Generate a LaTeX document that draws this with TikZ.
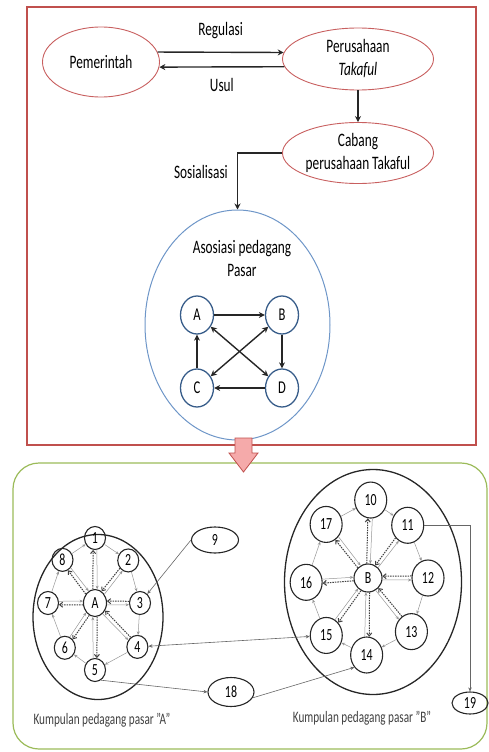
\documentclass[tikz,border=0pt]{standalone}
\usepackage{fontspec}
\setmainfont[FakeStretch=0.7]{Carlito}
\usetikzlibrary{positioning,arrows.meta,shapes.geometric}
\definecolor{framered}{RGB}{192,80,77}
\definecolor{ovalred}{RGB}{200,95,95}
\definecolor{asoblue}{RGB}{110,150,200}
\definecolor{nodeblue}{RGB}{56,93,138}
\definecolor{boxgreen}{RGB}{155,187,89}
\definecolor{arrowpink}{RGB}{245,170,170}
\definecolor{spokegray}{RGB}{150,150,150}
\tikzset{
	oval/.style={ellipse,draw=ovalred,line width=0.9pt,inner sep=0pt,align=center},
	blob/.style={ellipse,draw=nodeblue,line width=1.3pt,minimum width=33pt,minimum height=38pt,inner sep=0pt,font=\fontsize{18}{20}\selectfont},
	flow/.style={draw=black!85,line width=1.4pt,->},
	twoway/.style={draw=black!85,line width=1.4pt,<->},
	member/.style={ellipse,draw=black!85,line width=1.1pt,inner sep=0pt,font=\fontsize{17}{19}\selectfont},
	ring/.style={draw=spokegray,line width=0.5pt,-{Stealth[length=3.5pt,width=3pt]}},
	dotspoke/.style={draw=black!75,line width=1pt,dash pattern=on 1.5pt off 1pt,-{Straight Barb[length=3pt,width=5pt]}},
	link/.style={draw=black!60,line width=0.6pt,-{Stealth[length=4pt,width=3.5pt]}},
	linkboth/.style={draw=black!60,line width=0.6pt,{Stealth[length=4pt,width=3.5pt]}-{Stealth[length=4pt,width=3.5pt]}},
	tag/.style={inner sep=1pt,align=center},
}

\begin{document}
\begin{tikzpicture}[x=1pt,y=-1pt,font=\fontsize{19}{23}\selectfont,>={Stealth[length=6pt,width=6pt]}]
	\useasboundingbox (0,0) rectangle (488,752);
	\draw[framered,line width=1.2pt] (27,7) rectangle (476,445);
	\node[oval,minimum width=117pt,minimum height=70pt] (pem) at (101,62) {Pemerintah};
	\node[oval,minimum width=151pt,minimum height=62pt] (per) at (358,59) {Perusahaan\\\textit{Takaful}};
	\node[oval,minimum width=151pt,minimum height=61pt,on grid,below=94pt of per] (cab) {Cabang\\perusahaan Takaful};
	\node[ellipse,draw=asoblue,line width=1pt,minimum width=185pt,minimum height=230pt] (aso) at (237.5,325) {};
	\node[tag] (asolbl) at (242,258) {Asosiasi pedagang\\Pasar};
	\draw[flow] (pem.10) -- (per.175) node[tag,midway,above=12pt] (reg) {Regulasi};
	\draw[flow] (per.186) -- (pem.355) node[tag,midway,below=10pt] (usul) {Usul};
	\draw[flow] (per) -- (cab);
	\draw[flow] (cab.west) -| (aso.north) node[tag,pos=0.67,left=8pt] (sos) {Sosialisasi};

	\node[blob] (na) at (197,315) {A};
	\node[blob,on grid,right=85pt of na] (nb) {B};
	\node[blob,on grid,below=73pt of na] (nc) {C};
	\node[blob,on grid,below=73pt of nb] (nd) {D};
	\draw[flow] (na) -- (nb);
	\draw[flow] (nb) -- (nd);
	\draw[flow] (nd) -- (nc);
	\draw[flow] (nc) -- (na);
	\draw[twoway] (na) -- (nd);
	\draw[twoway] (nb) -- (nc);

	\draw[boxgreen,line width=1.2pt,rounded corners=26pt] (13,463) rectangle (487,749);
	\draw[framered,fill=arrowpink,line width=0.8pt] (235,438) -- (252,438) -- (252,453) -- (258,453) -- (243.5,472) -- (229,453) -- (235,453) -- cycle;

	\node[ellipse,draw=black!85,line width=1.3pt,minimum width=130pt,minimum height=165pt] (grpa) at (98,617) {};
	\node[member,minimum width=23pt,minimum height=27pt] (ha) at (95,603) {A};
	\foreach \n/\ang/\r in {1/90/65,2/52/54,3/0/45,4/-46/61,5/-90/67,6/-124/54,7/180/47,8/127/54}
		\node[member,minimum width=21pt,minimum height=23pt] (a\n) at ([shift={(\ang:\r pt)}]ha) {\n};
	\foreach \i/\j in {1/2,2/3,3/4,4/5,5/6,6/7,7/8,8/1}
		\draw[ring] (a\i) -- (a\j);
	\foreach [evaluate=\ang as \p using int(\ang+9),evaluate=\ang as \q using int(\ang+171),evaluate=\ang as \s using int(\ang-9),evaluate=\ang as \t using int(\ang+189)] \n/\ang in {1/90,5/-90,6/-124,7/180,8/127} {
		\draw[dotspoke] (ha.\p) -- (a\n.\q);
		\draw[ring] (a\n.\t) -- (ha.\s);
	}
	\foreach [evaluate=\ang as \p using int(\ang+9),evaluate=\ang as \q using int(\ang+171),evaluate=\ang as \s using int(\ang-9),evaluate=\ang as \t using int(\ang+189)] \n/\ang in {2/52,3/0,4/-46} {
		\draw[dotspoke] (a\n.\q) -- (ha.\p);
		\draw[ring] (ha.\s) -- (a\n.\t);
	}

	\node[ellipse,draw=black!85,line width=1.3pt,minimum width=177pt,minimum height=225pt] (grpb) at (373,582) {};
	\node[member,minimum width=28pt,minimum height=28pt] (hb) at (368,578) {B};
	\foreach \n/\ang/\r in {10/88/78,11/53/66,12/0/60,13/-51/69,14/-91/77,15/-126/71,16/184/62,17/128/68}
		\node[member,minimum width=32pt,minimum height=36pt] (b\n) at ([shift={(\ang:\r pt)}]hb) {\n};
	\foreach \i/\j in {10/11,11/12,12/13,13/14,14/15,15/16,16/17,17/10}
		\draw[ring] (b\i) -- (b\j);
	\foreach [evaluate=\ang as \p using int(\ang+7),evaluate=\ang as \q using int(\ang+173),evaluate=\ang as \s using int(\ang-7),evaluate=\ang as \t using int(\ang+187)] \n/\ang in {10/88,14/-91,15/-126,16/184,17/128} {
		\draw[dotspoke] (hb.\p) -- (b\n.\q);
		\draw[ring] (b\n.\t) -- (hb.\s);
	}
	\foreach [evaluate=\ang as \p using int(\ang+7),evaluate=\ang as \q using int(\ang+173),evaluate=\ang as \s using int(\ang-7),evaluate=\ang as \t using int(\ang+187)] \n/\ang in {11/53,12/0,13/-51} {
		\draw[dotspoke] (b\n.\q) -- (hb.\p);
		\draw[ring] (hb.\s) -- (b\n.\t);
	}

	\node[member,minimum width=47pt,minimum height=26pt] (n9) at (215,540) {9};
	\node[member,minimum width=46pt,minimum height=29pt] (n18) at (231,692) {18};
	\node[member,minimum width=36pt,minimum height=22pt] (n19) at (470,703) {19};
	\draw[link] (n9.west) -- (a3);
	\draw[linkboth] (a4) -- (b15);
	\draw[link] (a5.-60) -- (n18.west);
	\draw[link] (n18.-15) -- (b14.225);
	\draw[link] (b11.east) -| (n19.north);

	\node[tag,font=\fontsize{16}{19}\selectfont,text=black!75] (lbla) at (102,720) {Kumpulan pedagang pasar "A"};
	\node[tag,font=\fontsize{16}{19}\selectfont,text=black!75] (lblb) at (362,718) {Kumpulan pedagang pasar "B"};
\end{tikzpicture}
\end{document}
